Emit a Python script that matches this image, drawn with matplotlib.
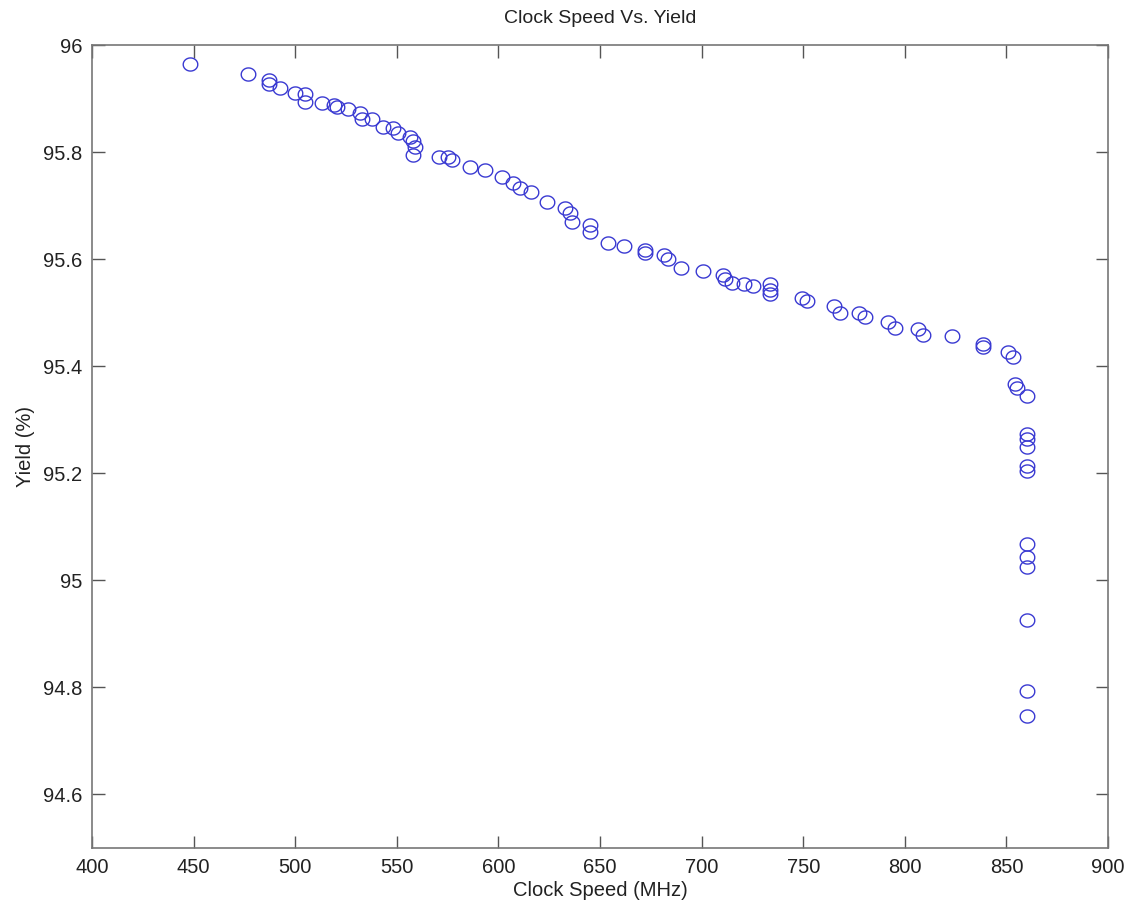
import numpy as np
import matplotlib
matplotlib.use("Agg")
import matplotlib.pyplot as plt
from matplotlib.path import Path

# clock speed (MHz) and yield (%)
clock_mhz = [
    448, 477, 487, 487, 492.5, 500, 505, 505, 513, 519, 520.5, 526, 532, 533,
    538, 543, 548, 550.5, 556.5, 558, 559, 558, 571, 575, 577, 586,
    593.5, 602, 607, 610.5, 616, 624, 633, 635, 636, 645, 645, 654, 662,
    672, 672, 681.5, 683.5, 690, 700.5, 710.5, 711.5, 715, 721, 725.5,
    733.5, 733.5, 733.5, 749.5, 752, 765, 768, 777.5, 780.5, 791.5, 795,
    806.5, 809, 823, 838.5, 838.5, 851, 853, 854, 855, 860,
    860, 860, 860, 860, 860, 860, 860, 860, 860, 860, 860,
]
yield_pct = [
    95.965, 95.946, 95.935, 95.928, 95.920, 95.911, 95.909, 95.894, 95.892,
    95.888, 95.884, 95.880, 95.873, 95.862, 95.862, 95.847, 95.845, 95.836,
    95.829, 95.820, 95.810, 95.795, 95.791, 95.790, 95.785, 95.773,
    95.767, 95.754, 95.742, 95.733, 95.726, 95.707, 95.696, 95.687, 95.670,
    95.664, 95.651, 95.631, 95.625, 95.618, 95.612, 95.607, 95.601, 95.584,
    95.577, 95.571, 95.562, 95.556, 95.554, 95.549,
    95.553, 95.543, 95.534, 95.528, 95.521, 95.512, 95.500, 95.500, 95.491,
    95.482, 95.472, 95.469, 95.459, 95.457, 95.441, 95.435, 95.426, 95.418,
    95.366, 95.360, 95.344,
    95.273, 95.264, 95.250, 95.213, 95.204, 95.068, 95.044, 95.025, 94.926,
    94.794, 94.747,
]

x_ticks = [400, 450, 500, 550, 600, 650, 700, 750, 800, 850, 900]
y_ticks = [94.6, 94.8, 95.0, 95.2, 95.4, 95.6, 95.8, 96.0]
y_tick_labels = ["94.6", "94.8", "95", "95.2", "95.4", "95.6", "95.8", "96"]

plt.rcParams["font.family"] = ["Liberation Sans", "DejaVu Sans"]

# the markers in the picture are a little wider than tall
t = np.linspace(0, 2 * np.pi, 41)
ellipse = Path(np.column_stack([np.cos(t), 0.9 * np.sin(t)]))

fig = plt.figure(figsize=(11.32, 9.13), dpi=100)
ax = fig.add_axes([0.0813, 0.0712, 0.8975, 0.8795])

ax.plot(clock_mhz, yield_pct, linestyle="none", marker=ellipse, markersize=10.5,
        markerfacecolor="none", markeredgecolor="#3a3ad2", markeredgewidth=1.0)

ax.set_xlim(400, 900)
ax.set_ylim(94.5, 96)
ax.set_xticks(x_ticks)
ax.set_yticks(y_ticks)
ax.set_yticklabels(y_tick_labels)

ax.tick_params(direction="in", length=9, width=1, colors="#555555",
               labelcolor="#222222", labelsize=14.5, top=True, right=True,
               pad=7)
for side in ax.spines.values():
    side.set_color("#777777")
    side.set_linewidth(1.2)

ax.set_xlabel("Clock Speed (MHz)", fontsize=14.5, color="#222222", labelpad=3)
ax.set_ylabel("Yield (%)", fontsize=14.5, color="#222222", labelpad=6)
ax.set_title("Clock Speed Vs. Yield", fontsize=14, color="#222222", pad=16)

fig.savefig("out.png", dpi=100)
